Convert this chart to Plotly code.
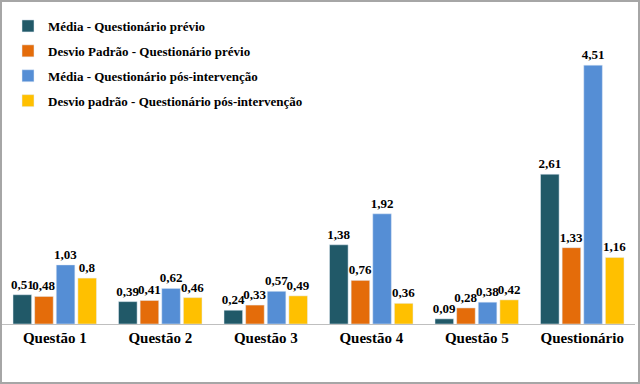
import plotly.graph_objects as go

categories = ["Questão 1", "Questão 2", "Questão 3", "Questão 4", "Questão 5", "Questionário"]
media_previo = [0.51, 0.39, 0.24, 1.38, 0.09, 2.61]
dp_previo = [0.48, 0.41, 0.33, 0.76, 0.28, 1.33]
media_pos = [1.03, 0.62, 0.57, 1.92, 0.38, 4.51]
dp_pos = [0.8, 0.46, 0.49, 0.36, 0.42, 1.16]

series_names = [
    "Média - Questionário prévio",
    "Desvio Padrão - Questionário prévio",
    "Média - Questionário pós-intervenção",
    "Desvio padrão - Questionário pós-intervenção",
]
series_values = [media_previo, dp_previo, media_pos, dp_pos]
colors = ["#215968", "#e46c0a", "#558ed5", "#ffc000"]

def fmt(v):
    s = ("%.2f" % v).rstrip("0").rstrip(".")
    return s.replace(".", ",")

FONT = "'Liberation Serif', 'Times New Roman', serif"
fig = go.Figure()
for i, (name, vals, col) in enumerate(zip(series_names, series_values, colors)):
    fig.add_trace(go.Bar(
        x=categories, y=vals, name=name, marker_color=col,
        text=[fmt(v) for v in vals], textposition="outside",
        textfont=dict(family=FONT, size=13, color="black", weight="bold"),
        constraintext="none", cliponaxis=False, legendgroup=str(i),
    ))

L, R, T, B = 2, 5, 0, 60
W, H = 640, 384
pw, ph = W - L - R, H - T - B
fig.update_layout(
    width=W, height=H, margin=dict(l=L, r=R, t=T, b=B),
    paper_bgcolor="white", plot_bgcolor="white",
    barmode="group", bargap=0.18, bargroupgap=0.14,
    showlegend=True,
    legend=dict(x=(8 - L) / pw, y=1 - 11 / ph, xanchor="left", yanchor="top",
                font=dict(family=FONT, size=13, color="black", weight="bold"),
                tracegroupgap=5, bgcolor="rgba(0,0,0,0)", itemwidth=30),
    xaxis=dict(showline=True, linecolor="#bfbfbf", linewidth=1, ticks="",
               tickfont=dict(family=FONT, size=15, color="black", weight="bold")),
    yaxis=dict(range=[0, ph / 57.4], visible=False, showgrid=False),
    shapes=[dict(type="rect", xref="paper", yref="paper",
                 x0=(1 - L) / pw, x1=(W - 1 - L) / pw,
                 y0=(ph - (H - 1 - T)) / ph, y1=(ph - (1 - T)) / ph,
                 line=dict(color="#a6a6a6", width=2))],
)
fig.write_html("out.html", config={"displayModeBar": False},
               post_script="document.body.style.margin='0';")
